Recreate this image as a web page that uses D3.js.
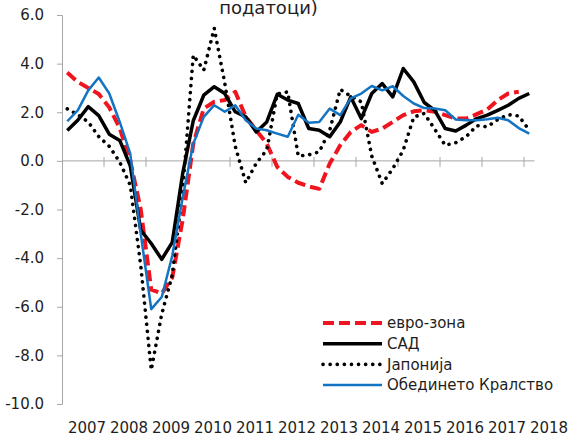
<!DOCTYPE html>
<html>
<head>
<meta charset="utf-8">
<script src="https://cdn.jsdelivr.net/npm/d3@7"></script>
<style>
  body { margin: 0; background: #fff; }
  text { font-family: "DejaVu Sans", sans-serif; fill: #1e1e1e; }
</style>
</head>
<body>
<div id="chart"></div>
<script>
// Data (y/y growth, %, quarterly 2007Q1 - 2018Q1)
const years = [2007, 2008, 2009, 2010, 2011, 2012, 2013, 2014, 2015, 2016, 2017, 2018];
const quarters = years.flatMap(yr => ["Q1", "Q2", "Q3", "Q4"].map(q => yr + q)).slice(0, 45);
const yTicks = [6, 4, 2, 0, -2, -4, -6, -8, -10];

const euroArea = [3.63, 3.25, 3.0, 2.75, 2.2, 1.35, 0.0, -2.0, -5.3, -5.45, -4.8, -2.4,
  0.7, 2.15, 2.43, 2.5, 2.84, 1.81, 1.26, 0.71, -0.25, -0.66, -0.9, -1.05,
  -1.15, -0.11, 0.64, 1.19, 1.47, 1.19, 1.33, 1.6, 1.88, 2.04, 2.08, 2.02,
  1.88, 1.74, 1.74, 1.92, 2.11, 2.5, 2.77, 2.84];
const usa = [1.25, 1.67, 2.23, 1.86, 1.1, 0.84, -0.2, -2.85, -3.4, -4.05, -3.35, -0.5,
  1.65, 2.7, 3.05, 2.77, 2.02, 1.81, 1.19, 1.6, 2.74, 2.5, 2.36, 1.33,
  1.26, 0.99, 1.6, 2.63, 1.74, 2.77, 3.18, 2.63, 3.8, 3.25, 2.4, 2.08,
  1.33, 1.23, 1.47, 1.74, 1.88, 2.08, 2.29, 2.57, 2.77];
const japan = [2.14, 1.9, 1.6, 1.0, 0.6, -0.05, -1.0, -4.3, -8.6, -6.3, -4.7, -1.2,
  4.35, 3.73, 5.45, 3.2, 0.6, -0.9, -0.1, 0.45, 2.75, 2.84, 0.2, 0.25,
  0.37, 1.26, 2.94, 2.66, 2.43, 0.2, -0.93, -0.32, 0.44, 1.8, 1.95, 1.3,
  0.64, 0.75, 1.0, 1.45, 1.4, 1.7, 1.9, 1.85, 1.26];
const uk = [1.63, 2.08, 2.9, 3.43, 2.77, 1.6, 0.3, -3.0, -6.1, -5.6, -3.9, -1.5,
  0.7, 1.81, 2.29, 2.02, 2.29, 1.67, 1.33, 1.26, 1.12, 0.99, 1.9, 1.57,
  1.6, 2.15, 1.88, 2.57, 2.77, 3.08, 2.9, 3.07, 2.67, 2.36, 2.17, 2.15,
  2.08, 1.7, 1.67, 1.67, 1.71, 1.77, 1.67, 1.35, 1.12];

const seriesNames = ["евро-зона", "САД", "Јапонија", "Обединето Кралство"];
const seriesValues = [euroArea, usa, japan, uk];

// Styles
const styles = [
  { stroke: "#f0141e", width: 4, dash: "11,5", cap: "butt" },
  { stroke: "#000000", width: 3.5, dash: null, cap: "butt" },
  { stroke: "#000000", width: 3.6, dash: "0.1,7", cap: "round" },
  { stroke: "#1274c2", width: 2.5, dash: null, cap: "butt" }
];

const width = 569;
const height = 438;

const svg = d3.select("#chart")
  .append("svg")
  .attr("width", width)
  .attr("height", height);

// Scales
const x = d3.scaleBand().domain(quarters).range([62, 534.5]);
const y = d3.scaleLinear().domain([-10, 6]).range([404, 15]);

// Title (second line only, as in the original)
svg.append("text")
  .attr("x", 268.5)
  .attr("y", 14)
  .attr("text-anchor", "middle")
  .style("font-size", "18px")
  .text("податоци)");

// Y axis
const yAxis = svg.append("g")
  .attr("transform", "translate(62,0)")
  .call(d3.axisLeft(y).tickValues(yTicks).tickSize(5).tickPadding(13)
    .tickFormat(d => d.toFixed(1)));
yAxis.select(".domain").attr("stroke", "#a6a6a6");
yAxis.selectAll(".tick line").attr("stroke", "#a6a6a6");
yAxis.selectAll(".tick text")
  .style("font-size", "15px")
  .style("font-family", "DejaVu Sans")
  .attr("fill", "#1e1e1e");

// X axis at zero
const y0 = y(0);
svg.append("line")
  .attr("x1", x.range()[0]).attr("x2", x.range()[1])
  .attr("y1", y0).attr("y2", y0)
  .attr("stroke", "#a6a6a6");

const tickQuarters = quarters.filter((q, i) => i % 4 === 0 && i > 0);
svg.selectAll("line.xtick")
  .data(tickQuarters)
  .enter()
  .append("line")
  .attr("class", "xtick")
  .attr("x1", d => x(d)).attr("x2", d => x(d))
  .attr("y1", y0 - 4).attr("y2", y0 + 6)
  .attr("stroke", "#a6a6a6");

svg.selectAll("text.year")
  .data(years)
  .enter()
  .append("text")
  .attr("class", "year")
  .attr("x", (d, i) => x(quarters[Math.min(i * 4, 44)]) + 25)
  .attr("y", 433)
  .attr("text-anchor", "middle")
  .style("font-size", "15px")
  .text(d => d);

// Lines
const line = d3.line()
  .x((d, i) => x(quarters[i]) + x.bandwidth() / 2)
  .y(d => y(d));

svg.selectAll("path.series")
  .data(seriesValues)
  .enter()
  .append("path")
  .attr("class", "series")
  .attr("fill", "none")
  .attr("stroke", (d, i) => styles[i].stroke)
  .attr("stroke-width", (d, i) => styles[i].width)
  .attr("stroke-dasharray", (d, i) => styles[i].dash)
  .attr("stroke-linecap", (d, i) => styles[i].cap)
  .attr("stroke-linejoin", "round")
  .attr("d", line);

// Legend
const legend = svg.selectAll("g.legend")
  .data(seriesNames)
  .enter()
  .append("g")
  .attr("class", "legend")
  .attr("transform", (d, i) => `translate(323,${323 + i * 20.7})`);

legend.append("line")
  .attr("x1", 0).attr("x2", 59)
  .attr("stroke", (d, i) => styles[i].stroke)
  .attr("stroke-width", (d, i) => styles[i].width)
  .attr("stroke-dasharray", (d, i) => styles[i].dash)
  .attr("stroke-linecap", (d, i) => styles[i].cap);

legend.append("text")
  .attr("x", 64)
  .attr("dy", "0.35em")
  .style("font-size", "15px")
  .text(d => d);
</script>
</body>
</html>
